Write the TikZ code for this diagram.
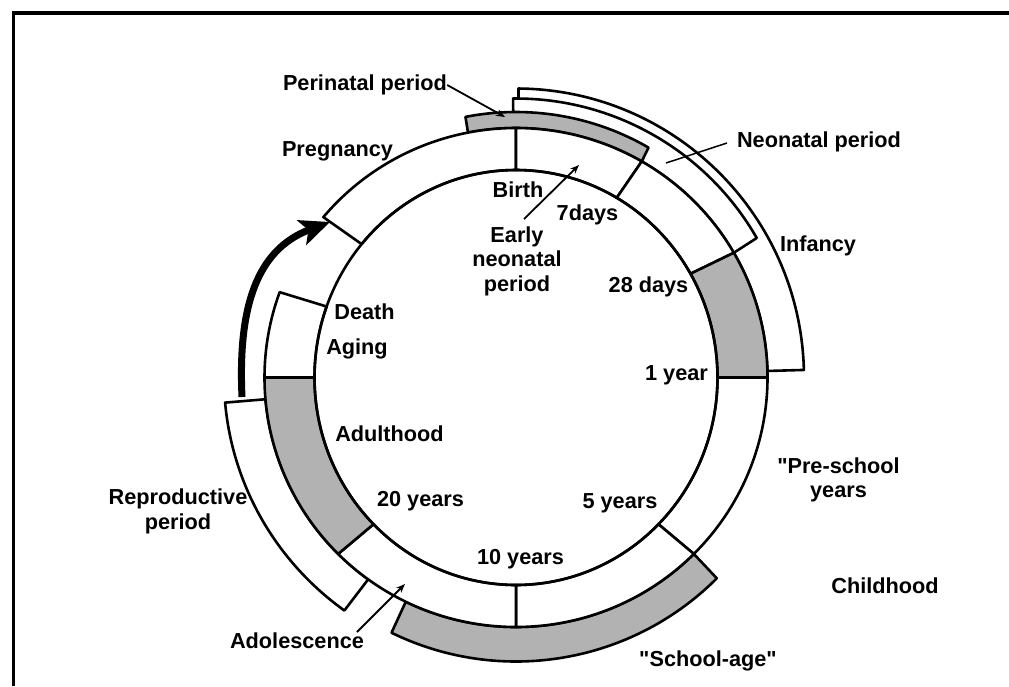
\documentclass[tikz,border=0pt]{standalone}
\usepackage{fontspec}
% a family without TeX ligatures, so that " stays a straight quote
\newfontfamily\lblfamily{Liberation Sans}
\usetikzlibrary{arrows.meta}
\newcommand\lblfont{\lblfamily\fontsize{21.7}{24.5}\selectfont\bfseries}
% radii of the life-cycle ring (outer and inner ellipse)
\def\roa{251.5}\def\rob{249.5}
\def\ria{201.5}\def\rib{207.5}
% one segment of the ring between two angles
\newcommand\ringseg[3]{%
  \draw[#1] (#2:\roa\space and \rob) arc[start angle=#2, end angle=#3, x radius=\roa, y radius=\rob]
    -- (#3:\ria\space and \rib) arc[start angle=#3, end angle=#2, x radius=\ria, y radius=\rib] -- cycle;}
% a band laid on the outside of the ring
\newcommand\outerband[5]{%
  \draw[#1] (#2:\roa\space and \rob) -- (#2:#4 and #5)
    arc[start angle=#2, end angle=#3, x radius=#4, y radius=#5]
    -- (#3:\roa\space and \rob)
    arc[start angle=#3, end angle=#2, x radius=\roa, y radius=\rob] -- cycle;}
\begin{document}
\begin{tikzpicture}[x=1pt,y=1pt,
  ring/.style={line width=2.6pt, line join=round},
  shaded/.style={ring, fill=black!30},
  plain/.style={ring, fill=white},
  lbl/.style={font=\lblfont, inner sep=0pt, align=center},
  pointer/.style={line width=1.8pt, -{Stealth[length=9pt,width=7pt]}},
  plainpointer/.style={line width=1.5pt},
  bigarrow/.style={line width=7pt, -{Stealth[length=30pt,width=26pt,inset=7pt]}},
  frame/.style={line width=3.5pt}]
\useasboundingbox (0,0) rectangle (1009,-686);
\fill[white] (0,0) rectangle (1009,-686);
\draw[frame] (13.5,-686) -- (13.5,-13) -- (1009,-13);

\begin{scope}[shift={(516,-377.5)}]
  % outer bands: infancy, neonatal, perinatal, reproductive, school-age
  \outerband{plain}{89.5}{1.5}{288}{289}
  \outerband{plain}{90.6}{30}{278}{279}
  \outerband{shaded}{101}{60}{265}{265.5}
  \outerband{plain}{185}{234}{292}{288}
  \outerband{shaded}{244}{315}{284}{284}
  % the ring itself
  \ringseg{plain}{140}{90}
  \ringseg{plain}{90}{60}
  \ringseg{plain}{60}{30}
  \ringseg{shaded}{30}{0}
  \ringseg{plain}{0}{-45}
  \ringseg{plain}{-45}{-90}
  \ringseg{plain}{-90}{-135}
  \ringseg{shaded}{-135}{-180}
  \ringseg{plain}{180}{160}
  \draw[ring] (0,0) ellipse[x radius=\ria, y radius=\rib];
\end{scope}

% labels
\node[lbl] (perinatal) at (365,-85) {Perinatal period};
\node[lbl] (pregnancy) at (337.5,-151) {Pregnancy};
\node[lbl] (neonatal) at (819,-142) {Neonatal period};
\node[lbl] (birth) at (518,-190) {Birth};
\node[lbl] (sevendays) at (587.5,-215) {7days};
\node[lbl] (earlyneo) at (517,-261) {Early\\neonatal\\period};
\node[lbl] (infancy) at (818,-246) {Infancy};
\node[lbl] (days28) at (648.5,-287) {28 days};
\node[lbl] (death) at (364.5,-312) {Death};
\node[lbl] (aging) at (357,-349) {Aging};
\node[lbl] (oneyear) at (676.5,-375) {1 year};
\node[lbl] (adulthood) at (389.5,-434) {Adulthood};
\node[lbl] (preschool) at (838.5,-480) {"Pre-school\\years};
\node[lbl] (reproductive) at (178,-511.5) {Reproductive\\period};
\node[lbl] (years20) at (420.5,-501) {20 years};
\node[lbl] (years5) at (620,-503) {5 years};
\node[lbl] (years10) at (520.5,-559) {10 years};
\node[lbl] (childhood) at (885,-586) {Childhood};
\node[lbl] (adolescence) at (297,-641) {Adolescence};
\node[lbl] (schoolage) at (708,-661) {"School-age"};

% pointer ends
\coordinate (perinatal-tip) at (505,-117);
\coordinate (neonatal-from) at (727,-143);
\coordinate (neonatal-tip) at (666,-163);
\coordinate (early-from) at (524,-219);
\coordinate (early-tip) at (579,-165);
\coordinate (adol-from) at (357,-632);
\coordinate (adol-tip) at (405,-584);
\draw[pointer] (perinatal.east) -- (perinatal-tip);
\draw[plainpointer] (neonatal-from) -- (neonatal-tip);
\draw[pointer] (early-from) -- (early-tip);
\draw[pointer] (adol-from) -- (adol-tip);

% the cycle closes: from the reproductive period back to pregnancy
\coordinate (loopstart) at (242,-397);
\coordinate (loopend) at (330,-222);
\draw[bigarrow] (loopstart) .. controls (238,-310) and (255,-250) .. (loopend);
\end{tikzpicture}
\end{document}
